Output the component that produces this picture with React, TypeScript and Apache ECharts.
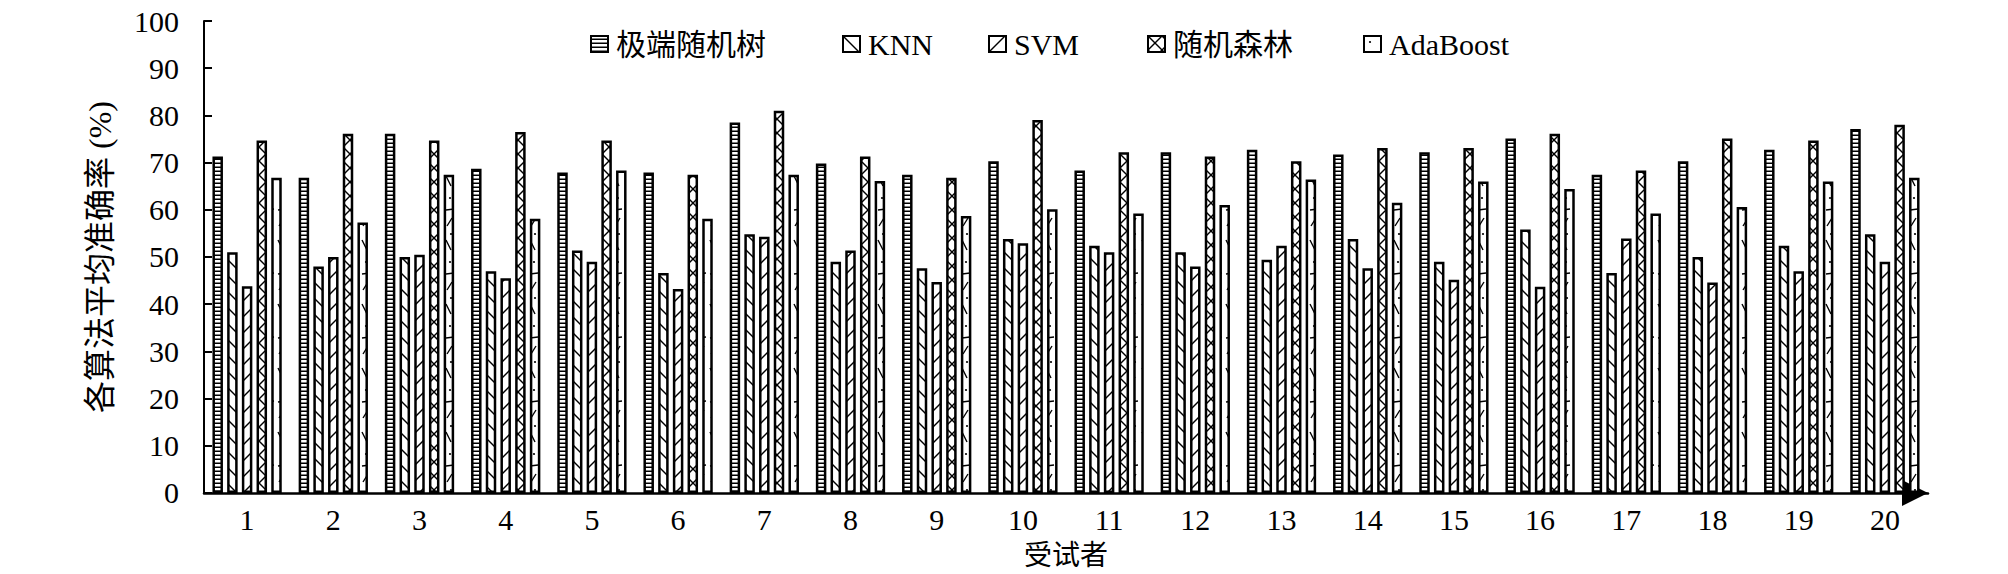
import React, { useEffect, useRef } from "react";
import * as echarts from "echarts";

const categories = ["1", "2", "3", "4", "5", "6", "7", "8", "9", "10", "11", "12", "13", "14", "15", "16", "17", "18", "19", "20"];
const seriesNames = ["极端随机树", "KNN", "SVM", "随机森林", "AdaBoost"];
const etValues = [71.3, 66.8, 76.1, 68.7, 67.9, 67.9, 78.5, 69.8, 67.4, 70.3, 68.3, 72.2, 72.7, 71.7, 72.2, 75.1, 67.4, 70.3, 72.7, 77.1];
const knnValues = [51.0, 48.0, 50.0, 47.0, 51.4, 46.6, 54.8, 49.0, 47.6, 53.8, 52.4, 51.0, 49.4, 53.8, 49.0, 55.8, 46.6, 50.0, 52.4, 54.8];
const svmValues = [43.8, 50.0, 50.5, 45.5, 49.0, 43.2, 54.3, 51.4, 44.7, 52.9, 51.0, 48.0, 52.4, 47.6, 45.2, 43.7, 53.9, 44.6, 47.0, 49.0];
const rfValues = [74.7, 76.1, 74.7, 76.5, 74.7, 67.4, 81.0, 71.3, 66.8, 79.0, 72.2, 71.3, 70.3, 73.1, 73.1, 76.1, 68.3, 75.1, 74.7, 78.0];
const adaValues = [66.8, 57.3, 67.4, 58.1, 68.3, 58.1, 67.4, 66.1, 58.7, 60.1, 59.2, 61.0, 66.4, 61.5, 66.0, 64.4, 59.2, 60.6, 66.0, 66.8];
const yTicks = { min: 0, max: 100, interval: 10 };
const legendLefts = [585, 837, 983, 1142, 1358];

const FONT = "'Liberation Serif', 'Times New Roman', 'Noto Sans CJK SC', serif";

function makeTile(kind: string) {
  const c = document.createElement("canvas");
  let w = 16, h = 16;
  if (kind === "h") { w = 8; h = 4; }
  if (kind === "cross") { w = 14; h = 14; }
  if (kind === "ada") { w = 12; h = 64; }
  c.width = w; c.height = h;
  const ctx = c.getContext("2d")!;
  ctx.fillStyle = "#ffffff";
  ctx.fillRect(0, 0, w, h);
  ctx.strokeStyle = "#000000";
  ctx.fillStyle = "#000000";
  ctx.lineWidth = 1.4;
  ctx.lineCap = "butt";
  const seg = (x1: number, y1: number, x2: number, y2: number) => {
    ctx.beginPath(); ctx.moveTo(x1, y1); ctx.lineTo(x2, y2); ctx.stroke();
  };
  if (kind === "h") {
    ctx.fillRect(0, 2.5, w, 1.5);
  } else if (kind === "back") {
    seg(-2, -2, w + 2, h + 2);
    seg(-4, h - 4, 4, h + 4);
    seg(w - 4, -4, w + 4, 4);
  } else if (kind === "fwd") {
    seg(-2, h + 2, w + 2, -2);
    seg(-4, 4, 4, -4);
    seg(w - 4, h + 4, w + 4, h - 4);
  } else if (kind === "cross") {
    seg(-2, -2, w + 2, h + 2);
    seg(-4, h - 4, 4, h + 4);
    seg(w - 4, -4, w + 4, 4);
    seg(-2, h + 2, w + 2, -2);
    seg(-4, 4, 4, -4);
    seg(w - 4, h + 4, w + 4, h - 4);
  } else if (kind === "ada") {
    ctx.beginPath(); ctx.arc(6, 6, 1.1, 0, Math.PI * 2); ctx.fill();
    seg(2, 18, 10, 17);
    seg(3, 34, 8, 26);
    ctx.beginPath(); ctx.arc(7, 42, 1.1, 0, Math.PI * 2); ctx.fill();
    seg(2, 48, 7, 58);
  }
  return { image: c, repeat: "repeat", imageWidth: w, imageHeight: h };
}

export default function App() {
  const ref = useRef<HTMLDivElement>(null);
  useEffect(() => {
    document.body.style.margin = "0";
    const chart = echarts.init(ref.current!, null, { renderer: "svg" });
    const kinds = ["h", "back", "fwd", "cross", "ada"];
    const values = [etValues, knnValues, svmValues, rfValues, adaValues];
    const series = seriesNames.map((name, i) => ({
      name,
      type: "bar",
      data: values[i],
      barWidth: 10.5,
      barGap: "40%",
      itemStyle: {
        color: makeTile(kinds[i]),
        borderColor: "#000",
        borderWidth: 2.5,
      },
      emphasis: { disabled: true },
    }));
    const legends = seriesNames.map((name, i) => ({
      data: [name],
      left: legendLefts[i],
      top: 24,
      itemWidth: 17,
      itemHeight: 16,
      icon: "rect",
      itemStyle: { borderColor: "#000", borderWidth: 2 },
      textStyle: { fontFamily: FONT, fontSize: 30, color: "#000", padding: [0, 0, 0, 3] },
      selectedMode: false,
    }));
    chart.setOption({
      animation: false,
      backgroundColor: "#fff",
      legend: legends,
      grid: { left: 204, top: 21, width: 1724, height: 472, containLabel: false },
      xAxis: {
        type: "category",
        data: categories,
        name: "受试者",
        nameLocation: "middle",
        nameGap: 48,
        nameTextStyle: { fontFamily: FONT, fontSize: 28, color: "#000" },
        axisLine: {
          lineStyle: { color: "#000", width: 2.5 },
          symbol: ["none", "triangle"],
          symbolSize: [26, 26],
          symbolOffset: [0, -13],
        },
        axisTick: { show: false },
        axisLabel: { fontFamily: FONT, fontSize: 30, color: "#000", margin: 12 },
      },
      yAxis: {
        type: "value",
        min: yTicks.min,
        max: yTicks.max,
        interval: yTicks.interval,
        name: "各算法平均准确率 (%)",
        nameLocation: "middle",
        nameGap: 88,
        nameTextStyle: { fontFamily: FONT, fontSize: 32, color: "#000" },
        axisLine: { show: true, lineStyle: { color: "#000", width: 2 } },
        axisTick: { show: true, inside: true, length: 8, lineStyle: { color: "#000", width: 2 } },
        splitLine: { show: false },
        axisLabel: { fontFamily: FONT, fontSize: 30, color: "#000", margin: 25 },
      },
      series,
    });
    return () => chart.dispose();
  }, []);
  return <div ref={ref} style={{ width: 2008, height: 574 }} />;
}
